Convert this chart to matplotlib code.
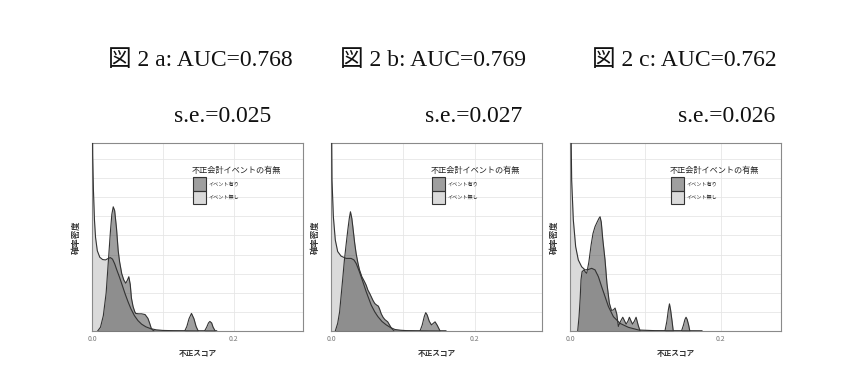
import matplotlib
matplotlib.use("Agg")
import matplotlib.pyplot as plt
from matplotlib.patches import Rectangle
import numpy as np

plt.rcParams['font.family'] = ['Noto Sans CJK JP', 'DejaVu Sans']

# ---------------- data ----------------
titles = ["図 2 a: AUC=0.768", "図 2 b: AUC=0.769", "図 2 c: AUC=0.762"]
se_labels = ["s.e.=0.025", "s.e.=0.027", "s.e.=0.026"]
xlims = [0.298, 0.294, 0.280]
xticks = [0.0, 0.2]
xtick_labels = ["0.0", "0.2"]
xlabel = "不正スコア"
ylabel = "確率密度"
legend_title = "不正会計イベントの有無"
legend_labels = ["イベント有り", "イベント無し"]

# Panel a
score_a_none = [0, 0.001, 0.002, 0.0035, 0.005, 0.0075, 0.011, 0.015, 0.019, 0.023, 0.026, 0.029,
                0.032, 0.035, 0.039, 0.043, 0.047, 0.051, 0.055, 0.060, 0.065, 0.070, 0.076, 0.083,
                0.091, 0.100, 0.115, 0.130, 0.145, 0.176]
dens_a_none = [75, 46, 37, 29, 24.5, 21, 19.3, 18.7, 18.6, 19.0, 19.2, 18.8,
               17.6, 16, 14, 11.8, 9.6, 7.6, 5.8, 4.0, 2.7, 1.8, 1.1, 0.6,
               0.3, 0.15, 0.08, 0.05, 0.02, 0]
score_a_event = [0.008, 0.012, 0.016, 0.020, 0.023, 0.026, 0.028, 0.030, 0.032, 0.0346, 0.037,
                 0.039, 0.042, 0.045, 0.0477, 0.050, 0.052, 0.054, 0.0557, 0.058, 0.0603, 0.0617,
                 0.066, 0.070, 0.075, 0.079, 0.0815, 0.0837, 0.086, 0.0884, 0.131, 0.134, 0.137,
                 0.1405, 0.144, 0.147, 0.150, 0.159, 0.162, 0.1645, 0.1665, 0.169, 0.171, 0.174, 0.176]
dens_a_event = [0, 1, 4, 10, 18, 26, 30.5, 32.5, 31.5, 26.9, 21,
                18.1, 15, 13.3, 12.5, 13.3, 14.2, 12.2, 8.6, 6.4, 5.1, 4.6,
                4.5, 4.5, 4.3, 3.3, 2.0, 0.7, 0.2, 0, 0, 1.2, 3.2,
                4.6, 3.2, 1.2, 0, 0, 1.0, 2.1, 2.5, 2.1, 1.0, 0, 0]

# Panel b
score_b_none = [0, 0.0014, 0.0033, 0.006, 0.0093, 0.014, 0.021, 0.028, 0.032, 0.035, 0.039, 0.042,
                0.046, 0.049, 0.053, 0.056, 0.061, 0.0654, 0.071, 0.077, 0.083, 0.089, 0.097, 0.105,
                0.120, 0.140, 0.160]
dens_b_none = [75, 39.5, 29.9, 23.8, 20.8, 19.6, 19.0, 19.0, 18.6, 17.7, 15.8, 14.2,
               12, 10.3, 8.3, 6.8, 5.0, 3.75, 2.5, 1.6, 0.9, 0.4, 0.2, 0.1,
               0.05, 0.02, 0]
score_b_event = [0.006, 0.0093, 0.012, 0.014, 0.0165, 0.0187, 0.021, 0.0234, 0.0255, 0.0271, 0.029,
                 0.0304, 0.033, 0.035, 0.0375, 0.0397, 0.043, 0.0467, 0.049, 0.0514, 0.054, 0.056,
                 0.0585, 0.061, 0.0635, 0.066, 0.068, 0.070, 0.0725, 0.075, 0.077, 0.079, 0.0815,
                 0.084, 0.088, 0.124, 0.127, 0.130, 0.132, 0.134, 0.137, 0.140, 0.1425, 0.145,
                 0.148, 0.152, 0.160]
dens_b_event = [0, 2, 5, 9, 14, 18.6, 22.5, 26.4, 29.5, 31.2, 29.5,
                27.3, 23, 20.3, 17.8, 16, 14.2, 12.9, 12, 10.7, 9.8, 9,
                8, 7.2, 6.8, 6.5, 5.6, 4.5, 3.6, 3, 2.7, 2.4, 1.6,
                0.8, 0, 0, 1.5, 3.8, 4.8, 4.2, 2.5, 1.6, 2.0, 2.4,
                1.5, 0, 0]

# Panel c
score_c_none = [0, 0.0022, 0.0044, 0.0075, 0.011, 0.0155, 0.020, 0.0244, 0.0288, 0.0332, 0.0377,
                0.042, 0.0465, 0.051, 0.0576, 0.0664, 0.0775, 0.091, 0.113, 0.157, 0.175]
dens_c_none = [75, 39.5, 29.1, 22.1, 18.6, 16.8, 16.0, 16.1, 16.4, 16.0, 14.2,
               11.6, 9.0, 6.4, 3.75, 2.0, 0.96, 0.26, 0.09, 0.03, 0]
score_c_event = [0.0102, 0.012, 0.0135, 0.0146, 0.016, 0.0186, 0.0205, 0.0222, 0.025, 0.028, 0.0305,
                 0.0332, 0.036, 0.0385, 0.0399, 0.0415, 0.0435, 0.0465, 0.049, 0.0522, 0.055, 0.0575,
                 0.0598, 0.062, 0.0642, 0.067, 0.070, 0.0725, 0.0745, 0.077, 0.0788, 0.081, 0.083,
                 0.0855, 0.0877, 0.0905, 0.093, 0.126, 0.1285, 0.1305, 0.132, 0.1335, 0.1355, 0.137,
                 0.148, 0.1505, 0.1525, 0.154, 0.1555, 0.1575, 0.159, 0.175]
dens_c_event = [0, 3.75, 8.5, 13.4, 15.5, 16.0, 15.4, 15.1, 18, 22.5, 25.5,
                27.3, 28.5, 29.5, 29.9, 28.5, 24, 18.6, 12.5, 7.3, 5.4, 5.5,
                6.0, 4.5, 1.2, 2.5, 3.6, 2.6, 1.8, 2.6, 3.6, 2.6, 1.8,
                2.6, 3.6, 1.5, 0, 0, 2.5, 5.5, 7.1, 5.5, 2.5, 0,
                0, 1.5, 3, 3.6, 3, 1.5, 0, 0]

panels = [
    (score_a_none, dens_a_none, score_a_event, dens_a_event),
    (score_b_none, dens_b_none, score_b_event, dens_b_event),
    (score_c_none, dens_c_none, score_c_event, dens_c_event),
]

# ---------------- styling ----------------
W, H = 862, 387
fig = plt.figure(figsize=(W / 100, H / 100), dpi=100)
fig.patch.set_facecolor('white')

none_fill = '#dadada'
event_fill = '#505050'
event_alpha = 0.55
line_col = '#333333'
serif = ['Liberation Serif', 'Noto Sans CJK JP']

ax_lefts = [92, 331, 570]
ax_w, ax_top, ax_bot = 211, 143, 331
title_x = [108, 340, 592]
se_right = [271, 522, 775]

for i, (xn, yn, xe, ye) in enumerate(panels):
    l = ax_lefts[i]
    ax = fig.add_axes([l / W, (H - ax_bot) / H, ax_w / W, (ax_bot - ax_top) / H])
    ax.set_xlim(0, xlims[i])
    ax.set_ylim(0, 49.2)
    ax.fill_between(xn, yn, 0, color=none_fill, lw=0, zorder=2)
    ax.fill_between(xe, ye, 0, color=event_fill, alpha=event_alpha, lw=0, zorder=3)
    ax.plot(xn, yn, color=line_col, lw=0.8, zorder=4)
    ax.plot(xe, ye, color=line_col, lw=0.8, zorder=4)

    ax.set_xticks(xticks)
    ax.set_xticklabels(xtick_labels)
    ax.set_xticks([0.1], minor=True)
    ax.set_yticks(np.arange(10, 50, 10))
    ax.set_yticks(np.arange(5, 50, 10), minor=True)
    ax.set_yticklabels([])
    ax.tick_params(axis='both', which='both', length=0, labelsize=5, labelcolor='#777777', pad=3)
    ax.grid(True, which='both', color='#e6e6e6', lw=0.6, zorder=0)
    ax.set_axisbelow(True)
    for sp in ax.spines.values():
        sp.set_color('#8a8a8a')
        sp.set_linewidth(0.8)
    ax.set_xlabel(xlabel, fontsize=5.5, fontweight='bold', color='#333333', labelpad=4)
    ax.set_ylabel(ylabel, fontsize=6, fontweight='bold', color='#333333', labelpad=5)

    # legend (drawn in axes fraction)
    fx = lambda px: (px - l) / ax_w
    fy = lambda py: (ax_bot - py) / (ax_bot - ax_top)
    ax.text(fx(l + 100), fy(170), legend_title, fontsize=5.9, color='#222222',
            transform=ax.transAxes, va='center', ha='left', zorder=6)
    keys = [(event_fill, event_alpha), (none_fill, 1.0)]
    for k, ((col, al), lab) in enumerate(zip(keys, legend_labels)):
        top = 177 + k * 13.5
        ax.add_patch(Rectangle((fx(l + 101), fy(top + 13.5)), 13 / ax_w, 13.5 / (ax_bot - ax_top),
                               transform=ax.transAxes, facecolor=col, alpha=al, lw=0, zorder=6))
        ax.add_patch(Rectangle((fx(l + 101), fy(top + 13.5)), 13 / ax_w, 13.5 / (ax_bot - ax_top),
                               transform=ax.transAxes, facecolor='none', edgecolor='#333333',
                               lw=0.8, zorder=7))
        ax.text(fx(l + 117), fy(top + 6.75), lab, fontsize=3.7, color='#222222',
                transform=ax.transAxes, va='center', ha='left', zorder=6)

    fig.text(title_x[i] / W, 1 - 60 / H, titles[i], family=serif, fontsize=17,
             color='#111111', ha='left', va='center')
    fig.text(se_right[i] / W, 1 - 117 / H, se_labels[i], family=serif, fontsize=17,
             color='#111111', ha='right', va='center')

fig.savefig('out.png', dpi=100, facecolor='white')
